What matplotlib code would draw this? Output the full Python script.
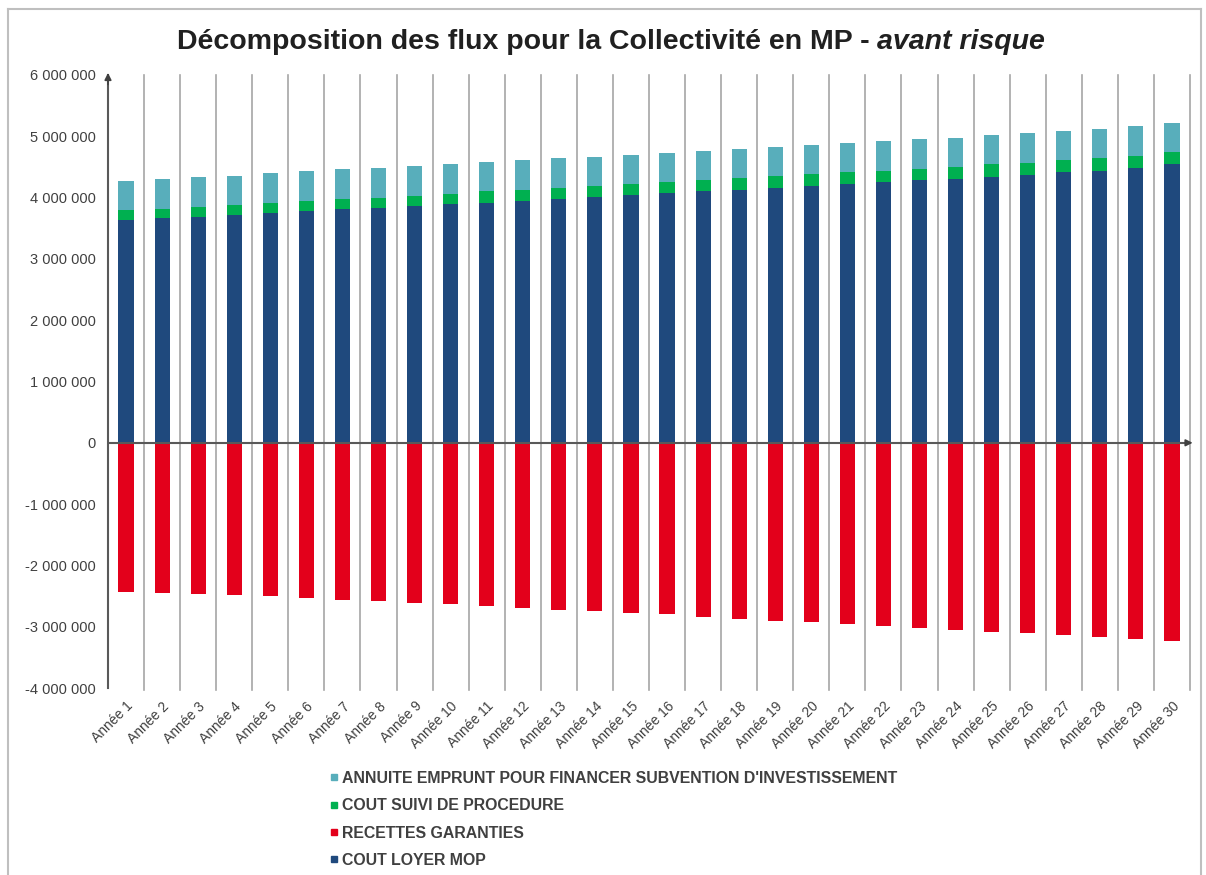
#!/usr/bin/env python3
"""Décomposition des flux pour la Collectivité en MP - avant risque."""

import matplotlib
matplotlib.use('Agg')
import matplotlib.pyplot as plt
from matplotlib.lines import Line2D
from matplotlib.ticker import FuncFormatter, MultipleLocator
import numpy as np

plt.rcParams['font.family'] = ['Liberation Sans', 'DejaVu Sans']

YEARS = [f"Année {i}" for i in range(1, 31)]

COUT_LOYER = [3.63, 3.66, 3.69, 3.72, 3.75, 3.78, 3.81, 3.83, 3.86, 3.89,
              3.92, 3.95, 3.98, 4.01, 4.04, 4.07, 4.10, 4.13, 4.16, 4.19,
              4.22, 4.25, 4.28, 4.31, 4.34, 4.37, 4.41, 4.44, 4.48, 4.54]
COUT_SUIVI = [0.16, 0.16, 0.16, 0.16, 0.17, 0.17, 0.17, 0.17, 0.17, 0.17,
              0.18, 0.18, 0.18, 0.18, 0.18, 0.18, 0.18, 0.19, 0.19, 0.19,
              0.19, 0.19, 0.19, 0.19, 0.20, 0.20, 0.20, 0.20, 0.20, 0.20]
ANNUITE = [0.48, 0.48, 0.48, 0.48, 0.48, 0.48, 0.48, 0.48, 0.48, 0.48,
           0.48, 0.48, 0.48, 0.48, 0.48, 0.48, 0.48, 0.48, 0.48, 0.48,
           0.48, 0.48, 0.48, 0.48, 0.48, 0.48, 0.48, 0.48, 0.48, 0.48]
RECETTES = [-2.44, -2.45, -2.46, -2.48, -2.50, -2.53, -2.56, -2.58, -2.61, -2.63,
            -2.66, -2.69, -2.72, -2.74, -2.77, -2.80, -2.84, -2.87, -2.90, -2.93,
            -2.96, -2.99, -3.02, -3.05, -3.09, -3.11, -3.14, -3.17, -3.20, -3.23]

C_ANNUITE = "#58AEBB"
C_SUIVI = "#00B050"
C_RECETTES = "#E3001B"
C_LOYER = "#1F497D"
GRID = "#A6A6A6"
TXT = "#404040"

fig = plt.figure(figsize=(12.06, 8.75), dpi=100)
ax = fig.add_axes([108 / 1206, 1 - 688 / 875, (1190 - 108) / 1206, (688 - 75) / 875])

x = np.arange(len(YEARS))
loyer = np.array(COUT_LOYER) * 1e6
suivi = np.array(COUT_SUIVI) * 1e6
annuite = np.array(ANNUITE) * 1e6
recettes = np.array(RECETTES) * 1e6

w = 0.42
ax.bar(x, loyer, w, color=C_LOYER, zorder=3)
ax.bar(x, suivi, w, bottom=loyer, color=C_SUIVI, zorder=3)
ax.bar(x, annuite, w, bottom=loyer + suivi, color=C_ANNUITE, zorder=3)
ax.bar(x, recettes, w, color=C_RECETTES, zorder=3)

ax.set_xlim(-0.5, len(YEARS) - 0.5)
ax.set_ylim(-4e6, 6e6)

# vertical separators between categories
for xi in np.arange(0.5, len(YEARS), 1.0):
    ax.plot([xi, xi], [-4.03e6, 6e6], color=GRID, lw=1.2, zorder=1, clip_on=False)

ax.yaxis.set_major_locator(MultipleLocator(1e6))
ax.yaxis.set_major_formatter(FuncFormatter(lambda v, p: f"{int(round(v)):,}".replace(",", " ")))
ax.tick_params(axis='y', length=0, labelsize=10.5, labelcolor=TXT, pad=9)

ax.set_xticks(x)
ax.set_xticklabels(YEARS, rotation=45, ha='right', rotation_mode='anchor',
                   fontsize=10, color=TXT)
ax.tick_params(axis='x', length=0, pad=8)

for s in ['top', 'right', 'bottom']:
    ax.spines[s].set_visible(False)
ax.spines['left'].set_color("#595959")
ax.spines['left'].set_linewidth(1.5)

# axis arrows
ax.axhline(0, color="#595959", lw=1.5, zorder=4)
ax.annotate("", xy=(len(YEARS) - 0.35, 0), xytext=(len(YEARS) - 0.7, 0),
            arrowprops=dict(arrowstyle="-|>", color=TXT, lw=1.2), zorder=5,
            annotation_clip=False)
ax.annotate("", xy=(-0.5, 6.08e6), xytext=(-0.5, 5.8e6),
            arrowprops=dict(arrowstyle="-|>", color=TXT, lw=1.2), zorder=5,
            annotation_clip=False)

# title: bold part + bold italic part, centred together
t1 = fig.text(0, 0.952, "Décomposition des flux pour la Collectivité en MP - ",
              ha='left', va='center', fontsize=20.5, fontweight='bold', color="#202020")
t2 = fig.text(0, 0.952, "avant risque", ha='left', va='center', fontsize=20.5,
              fontweight='bold', style='italic', color="#202020")
fig.canvas.draw()
r = fig.canvas.get_renderer()
w1 = t1.get_window_extent(r).width
w2 = t2.get_window_extent(r).width
x0 = 611 - (w1 + w2) / 2
t1.set_x(x0 / 1206)
t2.set_x((x0 + w1) / 1206)

handles = [
    Line2D([], [], marker='s', ls='', color=C_ANNUITE, markersize=5),
    Line2D([], [], marker='s', ls='', color=C_SUIVI, markersize=5),
    Line2D([], [], marker='s', ls='', color=C_RECETTES, markersize=5),
    Line2D([], [], marker='s', ls='', color=C_LOYER, markersize=5),
]
labels = ["ANNUITE EMPRUNT POUR FINANCER SUBVENTION D'INVESTISSEMENT",
          "COUT SUIVI DE PROCEDURE",
          "RECETTES GARANTIES",
          "COUT LOYER MOP"]
leg = fig.legend(handles, labels, loc='upper left', bbox_to_anchor=(322 / 1206, 1 - 763 / 875),
                 frameon=False, handlelength=0.55, handletextpad=0.2, labelspacing=0.78,
                 prop={'size': 11.4, 'weight': 'bold'}, borderpad=0)
for t in leg.get_texts():
    t.set_color(TXT)

# chart frame
fig.add_artist(Line2D([8 / 1206, 8 / 1206], [0, 1 - 9 / 875], color="#BFBFBF", lw=1.5,
                      transform=fig.transFigure))
fig.add_artist(Line2D([8 / 1206, 1201 / 1206], [1 - 9 / 875, 1 - 9 / 875], color="#BFBFBF",
                      lw=1.5, transform=fig.transFigure))
fig.add_artist(Line2D([1201 / 1206, 1201 / 1206], [0, 1 - 9 / 875], color="#BFBFBF", lw=1.5,
                      transform=fig.transFigure))

fig.savefig("out.png", dpi=100, facecolor="white")
